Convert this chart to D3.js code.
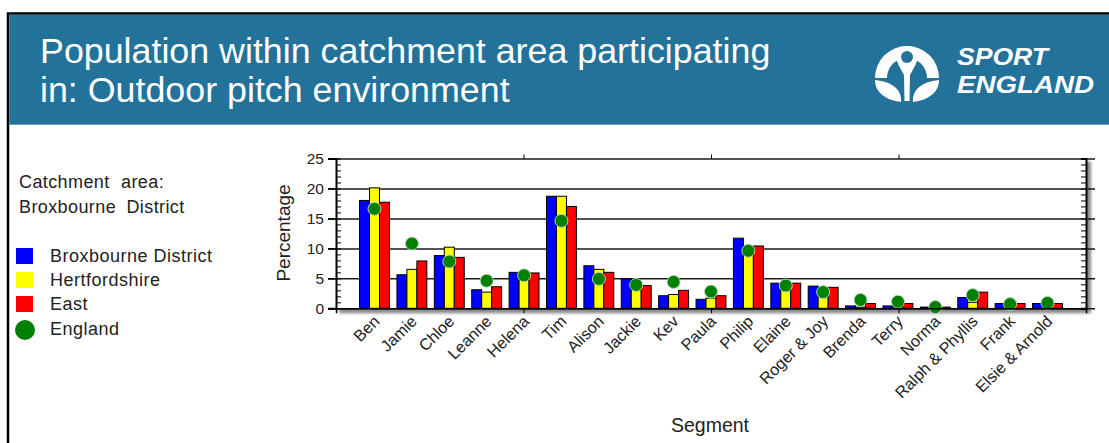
<!DOCTYPE html>
<html>
<head>
<meta charset="utf-8">
<script src="https://cdn.jsdelivr.net/npm/d3@7"></script>
<style>
  body { margin: 0; background: #fff; }
  svg { display: block; font-family: "Liberation Sans", Arial, sans-serif; }
</style>
</head>
<body>
<script>
let width = 1109,
    height = 443;

// Data (percent)
const segments = ['Ben', 'Jamie', 'Chloe', 'Leanne', 'Helena', 'Tim', 'Alison', 'Jackie', 'Kev', 'Paula',
    'Philip', 'Elaine', 'Roger & Joy', 'Brenda', 'Terry', 'Norma', 'Ralph & Phyllis', 'Frank', 'Elsie & Arnold'];
const broxbourne = [18.0, 5.6, 8.8, 3.1, 6.0, 18.7, 7.1, 4.9, 2.1, 1.5, 11.7, 4.2, 3.7, 0.4, 0.4, 0.2, 1.8, 0.8, 0.8];
const hertfordshire = [20.1, 6.5, 10.2, 2.7, 5.3, 18.7, 6.5, 4.2, 2.3, 1.7, 9.8, 3.9, 3.4, 0.2, 0.2, 0.1, 1.0, 0.5, 0.5];
const east = [17.7, 7.9, 8.5, 3.6, 5.9, 17.0, 6.0, 3.8, 3.0, 2.1, 10.4, 4.2, 3.5, 0.8, 0.8, 0.2, 2.7, 0.8, 0.8];
const england = [16.6, 10.8, 7.8, 4.6, 5.5, 14.6, 4.9, 3.9, 4.4, 2.8, 9.6, 3.8, 2.7, 1.4, 1.1, 0.2, 2.2, 0.7, 0.9];
const yTicks = [0, 5, 10, 15, 20, 25];
const seriesNames = ['Broxbourne District', 'Hertfordshire', 'East'];
const seriesColors = ['#0000ff', '#ffff00', '#ff0000'];

const svg = d3.select("body").append("svg")
    .attr("width", width)
    .attr("height", height);

// Header frame and banner
svg.append("rect")
    .attr("x", 8).attr("y", 13.5)
    .attr("width", width).attr("height", height)
    .attr("fill", "none")
    .attr("stroke", "#000")
    .attr("stroke-width", 2.5);

svg.append("rect")
    .attr("x", 9.3).attr("y", 14.7)
    .attr("width", width).attr("height", 110)
    .attr("fill", "#22729a");

const title = svg.append("text")
    .attr("fill", "#fff")
    .attr("font-size", 35.8);
title.append("tspan").attr("x", 40).attr("y", 63).text("Population within catchment area participating");
title.append("tspan").attr("x", 40).attr("y", 102).text("in: Outdoor pitch environment");

// Logo
const logo = svg.append("g").attr("fill", "#fff");
logo.append("path")
    .attr("d", "M875,78 A32,32 0 0 1 939,78 L927,78 A20,20 0 0 0 887,78 Z");
logo.append("circle").attr("cx", 907).attr("cy", 57).attr("r", 11);
logo.append("circle").attr("cx", 907).attr("cy", 57).attr("r", 6).attr("fill", "#22729a");
logo.append("path").attr("d", "M898,64 L916,64 L910,75 L909.5,101 L904.5,101 L904,75 Z");
logo.append("path").attr("d", "M875,80 C893,82 902,90 901,102 C885,100 875,92 875,80 Z");
logo.append("path").attr("d", "M939,80 C921,82 912,90 913,102 C929,100 939,92 939,80 Z");
logo.append("text")
    .attr("x", 957).attr("y", 65)
    .attr("font-size", 24).attr("font-weight", "bold").attr("font-style", "italic")
    .attr("textLength", 91).attr("lengthAdjust", "spacingAndGlyphs")
    .text("SPORT");
logo.append("text")
    .attr("x", 957).attr("y", 93)
    .attr("font-size", 24).attr("font-weight", "bold").attr("font-style", "italic")
    .attr("textLength", 137).attr("lengthAdjust", "spacingAndGlyphs")
    .text("ENGLAND");

// Legend
const legend = svg.append("g").attr("fill", "#222");
legend.append("text").attr("x", 19).attr("y", 188).attr("font-size", 18)
    .attr("letter-spacing", 0.4).attr("word-spacing", 6).text("Catchment area:");
legend.append("text").attr("x", 19).attr("y", 213).attr("font-size", 18)
    .attr("letter-spacing", 0.4).attr("word-spacing", 5).text("Broxbourne District");

seriesNames.forEach(function (name, i) {
    legend.append("rect")
        .attr("x", 16).attr("y", 248 + i * 24)
        .attr("width", 17).attr("height", 16)
        .attr("fill", seriesColors[i]);
    legend.append("text")
        .attr("x", 50).attr("y", 262 + i * 24)
        .attr("font-size", 18)
        .attr("letter-spacing", 0.5)
        .text(name);
});
legend.append("circle").attr("cx", 25).attr("cy", 330).attr("r", 10).attr("fill", "#008000");
legend.append("text").attr("x", 50).attr("y", 335).attr("font-size", 18)
    .attr("letter-spacing", 0.5).text("England");

// Scales
const plotLeft = 336, plotRight = 1086, plotTop = 158.5, plotBottom = 308.3;

const y = d3.scaleLinear()
    .domain([0, 25])
    .range([plotBottom, plotTop]);

const x0 = d3.scaleBand()
    .domain(segments)
    .range([plotLeft, plotRight])
    .paddingInner(0.2)
    .paddingOuter(0.63);

const x1 = d3.scaleBand()
    .domain([0, 1, 2])
    .range([0, x0.bandwidth()]);

// Shadow + plot background
const defs = svg.append("defs");
defs.append("filter").attr("id", "blur")
    .append("feGaussianBlur").attr("stdDeviation", 1.5);
svg.append("rect")
    .attr("x", plotLeft + 3).attr("y", plotTop + 3)
    .attr("width", plotRight - plotLeft + 2).attr("height", plotBottom - plotTop + 2)
    .attr("fill", "#8a8a8a")
    .attr("filter", "url(#blur)");
svg.append("rect")
    .attr("x", plotLeft).attr("y", plotTop)
    .attr("width", plotRight - plotLeft).attr("height", plotBottom - plotTop)
    .attr("fill", "#fff");

// Gridlines
svg.append("g")
    .attr("class", "grid")
    .attr("transform", "translate(" + (plotLeft - 8) + ",0)")
    .call(d3.axisRight(y).tickValues(yTicks).tickSize(plotRight - plotLeft + 17).tickFormat(""))
    .call(g => g.select(".domain").remove())
    .call(g => g.selectAll("line").attr("stroke", "#1a1a1a").attr("stroke-width", 1.5));

// Bars
const table = segments.map(function (s, i) {
    return { segment: s, values: [broxbourne[i], hertfordshire[i], east[i]], england: england[i] };
});

const groups = svg.append("g")
    .selectAll("g")
    .data(table)
    .enter().append("g")
    .attr("transform", d => "translate(" + x0(d.segment) + ",0)");

groups.selectAll("rect")
    .data(d => d.values.map((v, k) => ({ k: k, v: v })))
    .enter().append("rect")
    .attr("x", d => x1(d.k))
    .attr("y", d => y(d.v))
    .attr("width", x1.bandwidth())
    .attr("height", d => y(0) - y(d.v))
    .attr("fill", d => seriesColors[d.k])
    .attr("stroke", "#000")
    .attr("stroke-width", 1);

// England markers
svg.append("g")
    .selectAll("circle")
    .data(table)
    .enter().append("circle")
    .attr("cx", d => x0(d.segment) + x0.bandwidth() / 2)
    .attr("cy", d => y(d.england))
    .attr("r", 6.5)
    .attr("fill", "#007f00")
    .attr("stroke", "#b5d8b5")
    .attr("stroke-width", 1);

// Axes
const xq = d3.scaleLinear().domain([0, 4]).range([plotLeft, plotRight]);

svg.append("g")
    .attr("transform", "translate(" + plotLeft + ",0)")
    .call(d3.axisLeft(y).tickValues(yTicks).tickSize(8).tickPadding(4))
    .call(g => g.select(".domain").attr("stroke-width", 2))
    .call(g => g.selectAll("line").attr("stroke-width", 1.5))
    .call(g => g.selectAll("text").attr("font-size", 15.5).attr("fill", "#222")
        .attr("font-family", "Liberation Sans, Arial, sans-serif"));

svg.append("g")
    .attr("transform", "translate(" + plotLeft + ",0)")
    .call(d3.axisLeft(y).ticks(25).tickSize(-5).tickFormat(""))
    .call(g => g.select(".domain").remove());

svg.append("g")
    .attr("transform", "translate(" + plotRight + ",0)")
    .call(d3.axisRight(y).ticks(25).tickSize(-5).tickFormat(""))
    .call(g => g.select(".domain").attr("stroke-width", 2));

svg.append("g")
    .attr("transform", "translate(0," + plotBottom + ")")
    .call(d3.axisBottom(xq).ticks(4).tickSize(5).tickFormat(""))
    .call(g => g.select(".domain").attr("stroke-width", 1.5))
    .call(g => g.selectAll(".tick").filter(d => d === 0 || d === 4).remove());

svg.append("g")
    .attr("transform", "translate(0," + plotTop + ")")
    .call(d3.axisTop(xq).ticks(4).tickSize(4).tickFormat(""))
    .call(g => g.select(".domain").remove())
    .call(g => g.selectAll(".tick").filter(d => d === 0 || d === 4).remove());

// Segment labels
svg.append("g")
    .selectAll("text")
    .data(segments)
    .enter().append("text")
    .attr("transform", d => "translate(" + (x0(d) + x0.bandwidth() / 2 + 6) + "," + (plotBottom + 14) + ") rotate(-45)")
    .attr("text-anchor", "end")
    .attr("font-size", 16.2)
    .attr("fill", "#222")
    .text(d => d);

// Axis titles
svg.append("text")
    .attr("transform", "translate(290,233) rotate(-90)")
    .attr("text-anchor", "middle")
    .attr("font-size", 19)
    .attr("fill", "#222")
    .text("Percentage");

svg.append("text")
    .attr("x", 710).attr("y", 432)
    .attr("text-anchor", "middle")
    .attr("font-size", 19.5)
    .attr("fill", "#222")
    .text("Segment");
</script>
</body>
</html>
